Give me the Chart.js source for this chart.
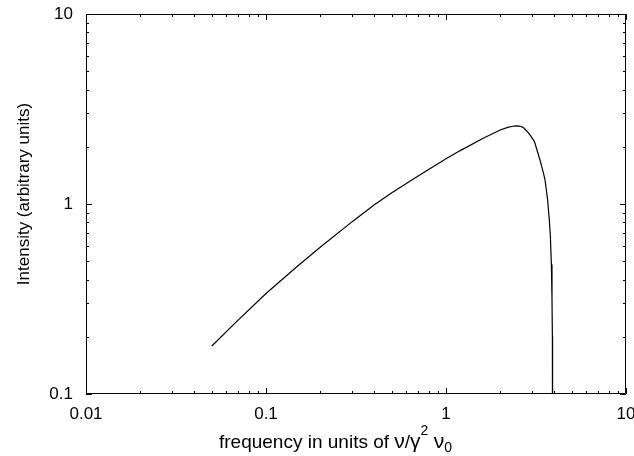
<!DOCTYPE html>
<html>
<head>
<meta charset="utf-8">
<script src="https://cdn.jsdelivr.net/npm/chart.js@4.4.0/dist/chart.umd.min.js"></script>
<style>
  html, body { margin: 0; padding: 0; background: #fff; }
  #wrap { width: 634px; height: 456px; }
</style>
</head>
<body>
<div id="wrap"><canvas id="spectrumChart"></canvas></div>
<script>
// values (log-log)
const frequency = [0.05, 0.07, 0.1, 0.15, 0.2, 0.3, 0.4, 0.5, 0.7, 1.0, 1.2, 1.6, 2.0, 2.2, 2.35, 2.47, 2.6, 2.7, 2.8, 2.93, 3.1, 3.33, 3.45, 3.55, 3.67, 3.75, 3.8, 3.85, 3.88, 3.9, 3.91]
const intensity = [0.179, 0.245, 0.338, 0.472, 0.592, 0.805, 0.99, 1.146, 1.406, 1.73, 1.91, 2.21, 2.45, 2.53, 2.565, 2.575, 2.56, 2.52, 2.43, 2.31, 2.13, 1.7, 1.5, 1.34, 1.05, 0.82, 0.68, 0.48, 0.32, 0.2, 0.01]

const xTicks = [0.01, 0.1, 1, 10]
const xTickLabels = ['0.01', '0.1', '1', '10']
const yTicks = [0.1, 1, 10]
const yTickLabels = ['0.1', '1', '10']

const yTitle = 'Intensity (arbitrary units)'
// x title pieces: [text, kind] kind: 'n' normal, 'g' greek, 'sup', 'sub'
const xTitleParts = [
  ['frequency in units of ', 'n'],
  ['\u03bd', 'g'],
  ['/', 'n'],
  ['\u03b3', 'g'],
  ['2', 'sup'],
  [' ', 'n'],
  ['\u03bd', 'g'],
  ['0', 'sub'],
]

const FONT = '"Liberation Sans", Arial, sans-serif'
Chart.defaults.font.family = FONT
Chart.defaults.font.size = 17
Chart.defaults.color = '#000'

// frame, inward ticks on all four sides, and the two axis titles
const framePlugin = {
  id: 'frame',
  beforeDatasetsDraw(chart) {
    const { ctx, chartArea: a } = chart
    const xs = chart.scales.x
    const ys = chart.scales.y
    ctx.save()
    ctx.strokeStyle = '#000'
    ctx.lineWidth = 1
    ctx.beginPath()
    ctx.rect(a.left + 0.5, a.top + 0.5, a.right - a.left - 1, a.bottom - a.top - 1)
    ctx.stroke()

    ctx.beginPath()
    const decades = (min, max, fn) => {
      for (let e = Math.round(Math.log10(min)); e <= Math.round(Math.log10(max)); e++) {
        for (let m = 1; m <= 9; m++) {
          const v = m * Math.pow(10, e)
          if (v < min * 0.999 || v > max * 1.001) continue
          fn(v, m === 1 ? 6 : 3)
        }
      }
    }
    decades(xs.min, xs.max, (v, len) => {
      const px = Math.round(xs.getPixelForValue(v)) + 0.5
      ctx.moveTo(px, a.bottom); ctx.lineTo(px, a.bottom - len)
      ctx.moveTo(px, a.top); ctx.lineTo(px, a.top + len)
    })
    decades(ys.min, ys.max, (v, len) => {
      const py = Math.round(ys.getPixelForValue(v)) + 0.5
      ctx.moveTo(a.left, py); ctx.lineTo(a.left + len, py)
      ctx.moveTo(a.right, py); ctx.lineTo(a.right - len, py)
    })
    ctx.stroke()
    ctx.restore()
  },
  afterDraw(chart) {
    const { ctx, chartArea: a } = chart
    ctx.save()
    ctx.fillStyle = '#000'
    ctx.textBaseline = 'alphabetic'

    // x title with superscript / subscript
    const fonts = { n: '19px ', g: '21px ', sup: '14px ', sub: '14px ' }
    let x = a.left + 133
    const base = 448
    xTitleParts.forEach(([t, k]) => {
      ctx.font = fonts[k] + FONT
      const dy = k === 'sup' ? -13 : k === 'sub' ? 4 : 0
      ctx.fillText(t, x, base + dy)
      x += ctx.measureText(t).width
    })

    // y title, rotated
    ctx.font = '17px ' + FONT
    ctx.textAlign = 'center'
    ctx.textBaseline = 'middle'
    ctx.translate(24, (a.top + a.bottom) / 2 - 10)
    ctx.rotate(-Math.PI / 2)
    ctx.fillText(yTitle, 0, 0)
    ctx.restore()
  },
}

const ctx = document.getElementById('spectrumChart').getContext('2d')
new Chart(ctx, {
  type: 'scatter',
  data: {
    datasets: [
      {
        data: frequency.map((f, i) => ({ x: f, y: intensity[i] })),
        showLine: true,
        borderColor: '#000',
        borderWidth: 1.2,
        pointRadius: 0,
        tension: 0,
      },
    ],
  },
  options: {
    responsive: true,
    maintainAspectRatio: false,
    animation: false,
    layout: { padding: { left: 0, right: 8, top: 14, bottom: 0 } },
    plugins: { legend: { display: false }, tooltip: { enabled: false } },
    scales: {
      x: {
        type: 'logarithmic',
        min: 0.01,
        max: 10,
        grid: { display: false, drawTicks: false },
        border: { display: false },
        ticks: {
          padding: 10,
          maxRotation: 0,
          callback: (v) => xTickLabels[xTicks.indexOf(v)],
        },
        afterBuildTicks: (s) => { s.ticks = xTicks.map((v) => ({ value: v })) },
        afterFit: (s) => {
          s.height = 62
          s.paddingLeft = 0
          s.paddingRight = 0
        },
      },
      y: {
        type: 'logarithmic',
        min: 0.1,
        max: 10,
        grid: { display: false, drawTicks: false },
        border: { display: false },
        ticks: {
          padding: 13,
          callback: (v) => yTickLabels[yTicks.indexOf(v)],
        },
        afterBuildTicks: (s) => { s.ticks = yTicks.map((v) => ({ value: v })) },
        afterFit: (s) => {
          s.width = 86
          s.paddingTop = 0
          s.paddingBottom = 0
        },
      },
    },
  },
  plugins: [framePlugin],
})
</script>
</body>
</html>
